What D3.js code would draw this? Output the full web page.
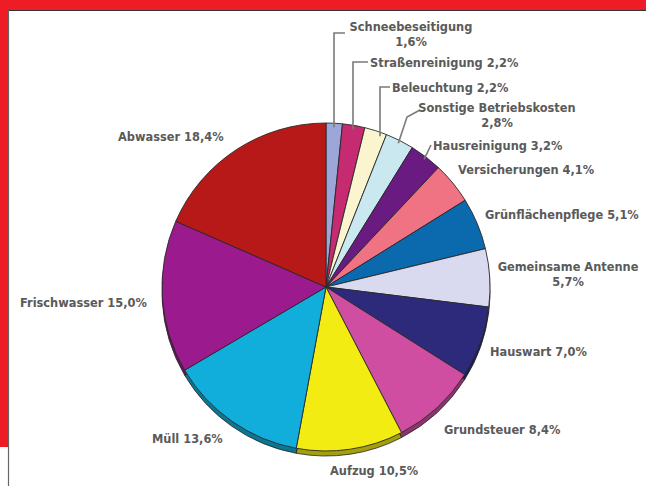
<!DOCTYPE html>
<html><head><meta charset="utf-8">
<script src="https://cdn.jsdelivr.net/npm/d3@7"></script>
<style>html,body{margin:0;padding:0;background:#fff;}svg{display:block;}</style>
</head><body>
<svg id="c" width="646" height="486"></svg>
<script>
// ---- data ----
const categories = ["Schneebeseitigung","Straßenreinigung","Beleuchtung","Sonstige Betriebskosten","Hausreinigung","Versicherungen","Grünflächenpflege","Gemeinsame Antenne","Hauswart","Grundsteuer","Aufzug","Müll","Frischwasser","Abwasser"];
const values = [1.6,2.2,2.2,2.8,3.2,4.1,5.1,5.7,7.0,8.4,10.5,13.6,15.0,18.4];
const valueLabels = ["1,6%","2,2%","2,2%","2,8%","3,2%","4,1%","5,1%","5,7%","7,0%","8,4%","10,5%","13,6%","15,0%","18,4%"];
const colors = ["#9ca6d8","#c62a70","#fbf5cf","#c9e8f0","#6a1b82","#f07383","#0b69ae","#d9d9ef","#2d2a7c","#d04ea2","#f3ec12","#12aedb","#9b1b8e","#b71818"];

// ---- layout (label placement, not data) ----
const labelLayout = [
  {x:411,y:31,a:"middle",two:true,bend:[[345,33],[334,33]]},
  {x:370,y:67,a:"start",two:false,bend:[[368,62],[353,62]]},
  {x:392,y:92,a:"start",two:false,bend:[[390,87],[380,87]]},
  {x:497,y:112,a:"middle",two:true,bend:[[420,110],[407,117]]},
  {x:433,y:150,a:"start",two:false,bend:[[431,145]]},
  {x:458,y:174,a:"start",two:false,bend:null},
  {x:485,y:219,a:"start",two:false,bend:null},
  {x:568,y:271,a:"middle",two:true,bend:null},
  {x:490,y:356,a:"start",two:false,bend:null},
  {x:444,y:434,a:"start",two:false,bend:null},
  {x:330,y:475,a:"start",two:false,bend:null},
  {x:152,y:443,a:"start",two:false,bend:null},
  {x:20,y:307,a:"start",two:false,bend:null},
  {x:118,y:141,a:"start",two:false,bend:null}
];

const svg = d3.select("#c");
// frame
svg.append("rect").attr("x",0).attr("y",0).attr("width",646).attr("height",10).attr("fill","#ee1c25");
svg.append("rect").attr("x",0).attr("y",0).attr("width",8).attr("height",447).attr("fill","#ee1c25");
svg.append("line").attr("x1",8).attr("x2",646).attr("y1",10.5).attr("y2",10.5).attr("stroke","#333").attr("stroke-width",1.2);
svg.append("line").attr("x1",8.5).attr("x2",8.5).attr("y1",10).attr("y2",486).attr("stroke","#666").attr("stroke-width",1.2);

const cx = 326, cy = 287, r = 164, depth = 5;
const pieData = d3.pie().sort(null).value(d=>d)(values);
const arc = d3.arc().innerRadius(0).outerRadius(r);

// 3D rim
const rimG = svg.append("g").attr("transform",`translate(${cx},${cy+depth})`);
rimG.selectAll("path").data(pieData).join("path")
  .attr("d",arc).attr("fill",(d,i)=>d3.color(colors[i]).darker(1.1))
  .attr("stroke","#222").attr("stroke-width",0.8);

const faceG = svg.append("g").attr("transform",`translate(${cx},${cy})`);
faceG.selectAll("path").data(pieData).join("path")
  .attr("d",arc).attr("fill",(d,i)=>colors[i])
  .attr("stroke","#2a2a2a").attr("stroke-width",0.9).attr("stroke-linejoin","round");

// leader lines: from text end through bends to the slice edge
pieData.forEach((d,i)=>{
  const L = labelLayout[i];
  if(!L.bend) return;
  const mid = (d.startAngle+d.endAngle)/2;
  const last = L.bend[L.bend.length-1];
  let end;
  if(L.bend.length===2 && i<3){
    const dx = last[0]-cx;
    end = [last[0], cy - Math.sqrt(r*r-dx*dx) + 4];
  } else {
    end = [cx + (r-3)*Math.sin(mid), cy - (r-3)*Math.cos(mid)];
  }
  const pts = L.bend.concat([end]);
  svg.append("path").attr("d",d3.line()(pts)).attr("fill","none").attr("stroke","#7a7a7a").attr("stroke-width",1.6);
});

// labels
const g = svg.append("g").attr("font-family","DejaVu Sans, Verdana, sans-serif").attr("font-size",11.4).attr("font-weight","bold").attr("fill","#5a5a5a");
categories.forEach((c,i)=>{
  const L = labelLayout[i];
  if(L.two){
    g.append("text").attr("x",L.x).attr("y",L.y).attr("text-anchor",L.a).text(c);
    g.append("text").attr("x",L.x).attr("y",L.y+15).attr("text-anchor","middle").text(valueLabels[i]);
  } else {
    g.append("text").attr("x",L.x).attr("y",L.y).attr("text-anchor",L.a).text(c+" "+valueLabels[i]);
  }
});
</script>
</body></html>
